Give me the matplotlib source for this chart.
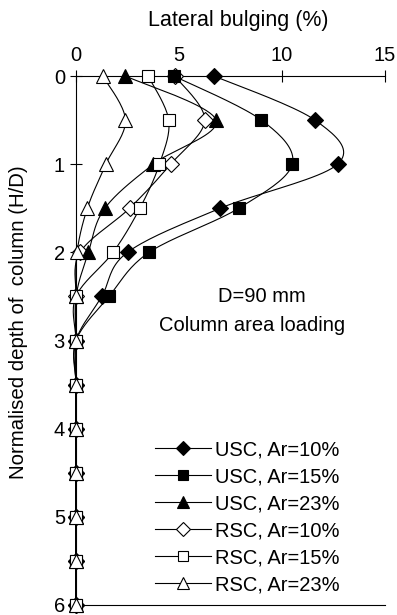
import numpy as np
import matplotlib
matplotlib.use("Agg")
import matplotlib.pyplot as plt
from matplotlib.lines import Line2D

plt.rcParams['font.family'] = ['Liberation Sans', 'DejaVu Sans']

depth = [0, 0.5, 1, 1.5, 2, 2.5, 3, 3.5, 4, 4.5, 5, 5.5, 6]

usc_10 = [6.7, 11.6, 12.7, 7.0, 2.5, 1.25, 0, 0, 0, 0, 0, 0, 0]
usc_15 = [4.75, 9.0, 10.5, 7.9, 3.55, 1.6, 0, 0, 0, 0, 0, 0, 0]
usc_23 = [2.4, 6.8, 3.75, 1.4, 0.6, 0, 0, 0, 0, 0, 0, 0, 0]
rsc_10 = [4.8, 6.25, 4.6, 2.6, 0.2, 0, 0, 0, 0, 0, 0, 0, 0]
rsc_15 = [3.5, 4.5, 4.05, 3.1, 1.8, 0, 0, 0, 0, 0, 0, 0, 0]
rsc_23 = [1.3, 2.4, 1.45, 0.55, 0.05, 0, 0, 0, 0, 0, 0, 0, 0]

labels = ["USC, Ar=10%", "USC, Ar=15%", "USC, Ar=23%",
          "RSC, Ar=10%", "RSC, Ar=15%", "RSC, Ar=23%"]
series = [usc_10, usc_15, usc_23, rsc_10, rsc_15, rsc_23]
markers = ['D', 's', '^', 'D', 's', '^']
sizes = [8, 8, 9.5, 8, 8, 9.5]
faces = ['black', 'black', 'black', 'white', 'white', 'white']
# stacking of the marker layers (open diamonds sit under the filled symbols)
layers = [4, 4, 4, 3, 5, 5]

x_ticks = [0, 5, 10, 15]
y_ticks = [0, 1, 2, 3, 4, 5, 6]


def smooth(x, y, n=20):
    """Catmull-Rom curve through the points (x, y)."""
    x = np.asarray(x, float)
    y = np.asarray(y, float)
    px = np.concatenate([[x[0]], x, [x[-1]]])
    py = np.concatenate([[y[0]], y, [y[-1]]])
    ox, oy = [], []
    t = np.linspace(0, 1, n, endpoint=False)
    for i in range(1, len(px) - 2):
        for arr, out in ((px, ox), (py, oy)):
            p0, p1, p2, p3 = arr[i - 1], arr[i], arr[i + 1], arr[i + 2]
            out.extend(0.5 * ((2 * p1) + (-p0 + p2) * t
                              + (2 * p0 - 5 * p1 + 4 * p2 - p3) * t ** 2
                              + (-p0 + 3 * p1 - 3 * p2 + p3) * t ** 3))
    ox.append(x[-1])
    oy.append(y[-1])
    return np.array(ox), np.array(oy)


fig = plt.figure(figsize=(3.97, 6.15), dpi=100)
ax = fig.add_axes([76 / 397, 1 - 605 / 615, 309 / 397, 529 / 615])

handles = []
for vals, m, s, fc, z, lab in zip(series, markers, sizes, faces, layers, labels):
    sx, sy = smooth(vals, depth)
    ax.plot(sx, sy, color='black', lw=0.8, zorder=2, clip_on=False)
    ax.plot(vals, depth, linestyle='none', marker=m, ms=s, mfc=fc,
            mec='black', mew=0.8, zorder=z, clip_on=False)
    handles.append(Line2D([], [], color='black', lw=0.8, marker=m, ms=s * 0.85,
                          mfc=fc, mec='black', mew=0.8, label=lab))

ax.set_xlim(0, 15)
ax.set_ylim(6, 0)
ax.xaxis.tick_top()
ax.xaxis.set_label_position('top')
ax.set_xticks(x_ticks)
ax.set_yticks(y_ticks)
ax.tick_params(axis='x', direction='inout', length=8, width=0.8,
               labelsize=14.5, pad=4, top=True, bottom=False)
ax.tick_params(axis='y', direction='inout', length=8, width=0.8,
               labelsize=14.5, pad=4)
ax.spines['right'].set_visible(False)
for sp in ('top', 'left', 'bottom'):
    ax.spines[sp].set_linewidth(0.8)

ax.set_xlabel("Lateral bulging (%)", fontsize=15.5)
ax.xaxis.set_label_coords(0.525, 1.095)
ax.set_ylabel("Normalised depth of  column (H/D)", fontsize=14.7)
ax.yaxis.set_label_coords(-0.155, 0.535)

ax.text(9.0, 2.5, "D=90 mm", fontsize=14.5, ha='center', va='center')
ax.text(8.55, 2.83, "Column area loading", fontsize=14.5, ha='center', va='center')

ax.legend(handles=handles, loc='lower left', bbox_to_anchor=(0.255, 0.02),
          frameon=False, fontsize=14.5, handlelength=2.8, handletextpad=0.2,
          labelspacing=0.4, borderaxespad=0, borderpad=0)

fig.savefig("out.png", dpi=100)
